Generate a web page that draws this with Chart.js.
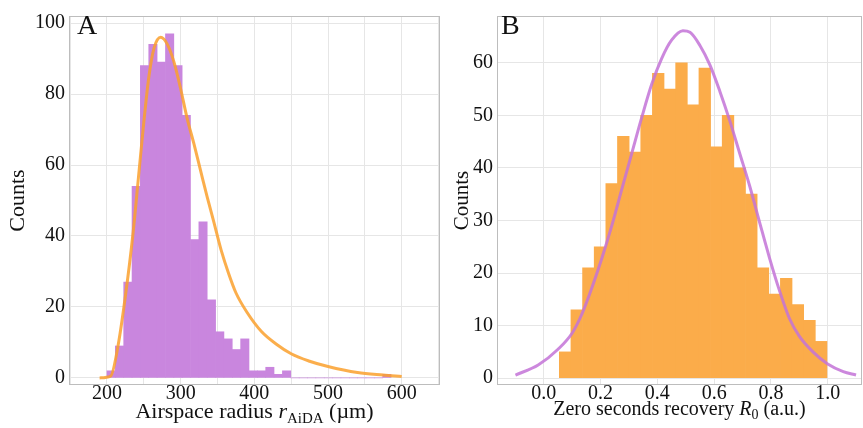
<!DOCTYPE html>
<html>
<head>
<meta charset="utf-8">
<script src="https://cdn.jsdelivr.net/npm/chart.js@4.4.1/dist/chart.umd.min.js"></script>
<style>
  html, body { margin: 0; padding: 0; background: #fff; }
  #wrap { position: relative; width: 863px; height: 428px; }
  canvas { position: absolute; top: 0; }
</style>
</head>
<body>
<div id="wrap">
  <canvas id="chartA" width="445" height="428" style="left:0px"></canvas>
  <canvas id="chartB" width="418" height="428" style="left:445px"></canvas>
</div>
<script>
// Panel A: airspace radius histogram (bin centres, µm) and counts
var binsA = [205.7, 217.0, 228.4, 239.7, 251.0, 262.4, 273.7, 285.1, 296.4, 307.7,
             319.1, 330.4, 341.8, 353.1, 364.4, 375.8, 387.1, 398.5, 409.8, 421.1,
             432.5, 443.8, 455.2, 466.5, 477.8, 489.2, 500.5, 511.9, 523.2, 534.5,
             545.9, 557.2, 568.6, 579.9];
var countsA = [2, 9, 27, 54, 88, 94, 89, 97, 88, 74,
               39, 44, 22, 13, 11, 8, 11, 2, 2, 3,
               1, 2, 0, 0, 0, 0, 0, 0, 0, 0,
               0, 0, 0, 1];
// fitted curve A
var fitAx = [190, 205, 215, 225, 235, 243, 250, 257, 264, 273, 282, 291, 300, 309, 318,
             327, 336, 345, 355, 365, 375, 390, 410, 430, 450, 475, 500, 540, 575, 600];
var fitAy = [0, 0.5, 9, 23, 40, 57, 72, 85, 93, 96, 94, 89, 81.5, 73, 66,
             58.5, 51, 44, 36, 29.5, 24, 18.5, 13, 9.5, 6.8, 4.7, 3.2, 1.5, 0.8, 0.4];

// Panel B: zero seconds recovery histogram
var binsB = [0.075, 0.116, 0.157, 0.198, 0.239, 0.280, 0.321, 0.362, 0.403, 0.444,
             0.485, 0.526, 0.567, 0.608, 0.649, 0.690, 0.731, 0.772, 0.813, 0.854,
             0.895, 0.936, 0.977];
var countsB = [5, 13, 21, 25, 37, 46, 43, 50, 58, 55,
               60, 52, 59, 44, 50, 40, 35, 21, 16, 19,
               14, 11, 7];
var fitBx = [-0.10, -0.02, 0.05, 0.10, 0.135, 0.17, 0.205, 0.24, 0.275, 0.31, 0.345,
             0.38, 0.415, 0.45, 0.49, 0.515, 0.55, 0.585, 0.62, 0.655, 0.69, 0.725,
             0.76, 0.795, 0.83, 0.865, 0.90, 0.95, 1.0, 1.055, 1.10];
var fitBy = [0.6, 2.5, 5.5, 8.6, 12.3, 17.3, 22.9, 29.1, 36, 42.8, 49.6,
             55.9, 60.8, 64.3, 66.1, 65.8, 63.3, 59.6, 54.6, 49, 42.8, 36.6,
             29.7, 22.9, 16.7, 11.4, 8, 4.9, 2.7, 1.25, 0.6];

var SERIF = "'Liberation Serif', 'DejaVu Serif', serif";

function pts(xs, ys) {
    return xs.map(function (x, i) { return { x: x, y: ys[i] }; });
}

// keep only ticks on whole steps inside the axis range
function keepStep(step) {
    return function (scale) {
        scale.ticks = scale.ticks.filter(function (t) {
            var r = t.value / step;
            return Math.abs(r - Math.round(r)) < 1e-6 &&
                t.value >= scale.min && t.value <= scale.max;
        });
    };
}

// frame, panel letter and the x title with subscript
function panelDeco(letter, letterX, titleParts, titleBase) {
    return {
        id: 'deco' + letter,
        afterDraw: function (chart) {
            var ctx = chart.ctx, a = chart.chartArea;
            ctx.save();
            ctx.strokeStyle = '#bdbdbd';
            ctx.lineWidth = 1;
            ctx.strokeRect(a.left + 0.5, a.top + 0.5, a.right - a.left - 1, a.bottom - a.top - 1);

            ctx.fillStyle = '#111';
            ctx.textBaseline = 'alphabetic';
            ctx.textAlign = 'left';
            ctx.font = '28px ' + SERIF;
            ctx.fillText(letter, letterX, 34);

            var total = 0;
            titleParts.forEach(function (p) {
                ctx.font = p.f;
                total += ctx.measureText(p.t).width;
            });
            var x = (a.left + a.right) / 2 - total / 2;
            titleParts.forEach(function (p) {
                ctx.font = p.f;
                ctx.fillText(p.t, x, titleBase + (p.dy || 0));
                x += ctx.measureText(p.t).width;
            });
            ctx.restore();
        }
    };
}

function makeChart(id, cfg) {
    return new Chart(document.getElementById(id).getContext('2d'), {
        type: 'bar',
        data: {
            datasets: [
                {
                    type: 'line',
                    data: cfg.fit,
                    borderColor: cfg.lineColor,
                    borderWidth: 3,
                    pointRadius: 0,
                    cubicInterpolationMode: 'monotone',
                    fill: false,
                    order: 0
                },
                {
                    type: 'bar',
                    data: cfg.hist,
                    backgroundColor: cfg.barColor,
                    borderWidth: 0,
                    barPercentage: 1,
                    categoryPercentage: 1,
                    order: 1
                }
            ]
        },
        options: {
            responsive: false,
            animation: false,
            layout: { padding: { top: 8, right: cfg.padRight, left: 0, bottom: 0 } },
            plugins: { legend: { display: false }, tooltip: { enabled: false } },
            scales: {
                x: {
                    type: 'linear',
                    offset: false,
                    min: cfg.xMin,
                    max: cfg.xMax,
                    afterBuildTicks: keepStep(cfg.xStep),
                    afterFit: function (s) { s.height = 43; },
                    grid: { color: '#e6e6e6', drawTicks: false, offset: false },
                    border: { display: false },
                    ticks: {
                        stepSize: cfg.xStep,
                        includeBounds: false,
                        padding: -3,
                        maxRotation: 0,
                        autoSkip: false,
                        color: '#111',
                        font: { family: SERIF, size: 20 },
                        callback: cfg.xLabel
                    }
                },
                y: {
                    min: cfg.yMin,
                    max: cfg.yMax,
                    afterBuildTicks: keepStep(cfg.yStep),
                    afterFit: function (s) { s.width = cfg.yWidth; },
                    grid: { color: '#e6e6e6', drawTicks: false },
                    border: { display: false },
                    ticks: {
                        stepSize: cfg.yStep,
                        includeBounds: false,
                        padding: 4,
                        color: '#111',
                        font: { family: SERIF, size: 20 }
                    },
                    title: {
                        display: true,
                        text: 'Counts',
                        color: '#111',
                        font: { family: SERIF, size: cfg.titleSize },
                        padding: { top: 5, bottom: 2 }
                    }
                }
            }
        },
        plugins: [cfg.deco]
    });
}

makeChart('chartA', {
    hist: pts(binsA, countsA),
    fit: pts(fitAx, fitAy),
    barColor: 'rgb(201, 134, 222)',
    lineColor: 'rgba(250, 160, 45, 0.85)',
    xMin: 148.5, xMax: 652, xStep: 50,
    xLabel: function (v) { return v % 100 === 0 ? String(v) : ''; },
    yMin: -2, yMax: 102, yStep: 20,
    yWidth: 69, padRight: 5, titleSize: 22,
    deco: panelDeco('A', 77, [
        { t: 'Airspace radius ', f: '22px ' + SERIF },
        { t: 'r', f: 'italic 22px ' + SERIF },
        { t: 'AiDA', f: '15px ' + SERIF, dy: 5 },
        { t: ' (µm)', f: '22px ' + SERIF }
    ], 418)
});

makeChart('chartB', {
    hist: pts(binsB, countsB),
    fit: pts(fitBx, fitBy),
    barColor: 'rgb(251, 172, 74)',
    lineColor: 'rgba(195, 115, 215, 0.85)',
    xMin: -0.165, xMax: 1.121, xStep: 0.2,
    xLabel: function (v) { return v.toFixed(1); },
    yMin: -1.3, yMax: 68.9, yStep: 10,
    yWidth: 52, padRight: 1, titleSize: 21,
    deco: panelDeco('B', 56, [
        { t: 'Zero seconds recovery ', f: '20px ' + SERIF },
        { t: 'R', f: 'italic 20px ' + SERIF },
        { t: '0', f: '14px ' + SERIF, dy: 4 },
        { t: ' (a.u.)', f: '20px ' + SERIF }
    ], 415)
});
</script>
</body>
</html>
